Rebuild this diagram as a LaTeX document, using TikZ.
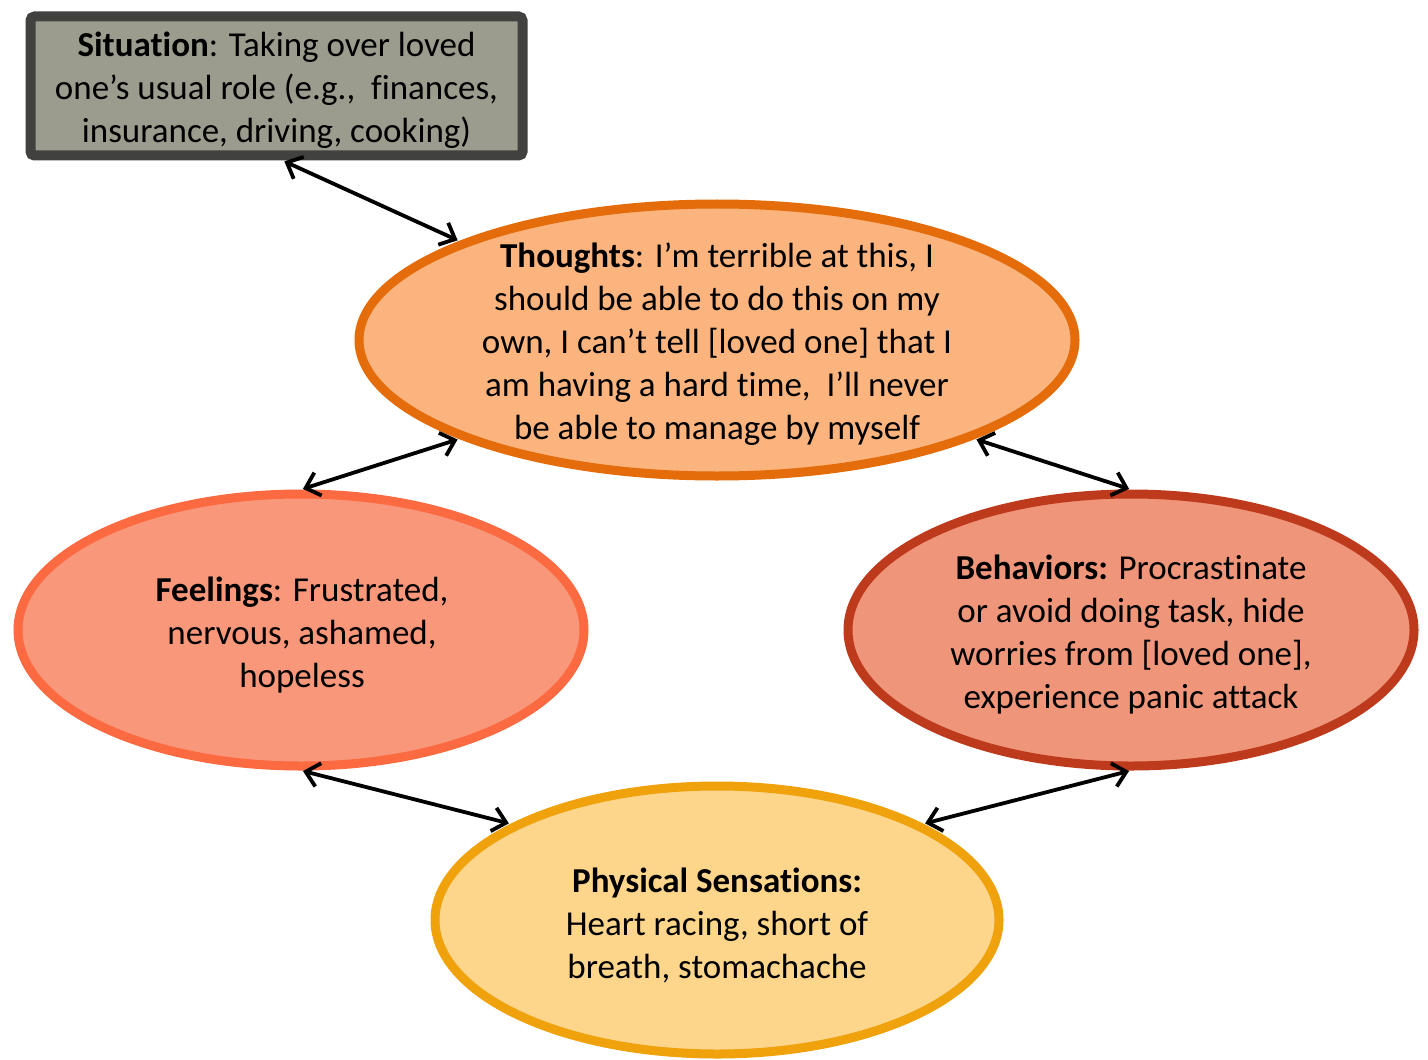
\documentclass[tikz,border=0pt]{standalone}
\usepackage{fontspec}
\setmainfont[Ligatures={NoCommon}]{Carlito}
\usetikzlibrary{shapes.geometric,arrows.meta}
\definecolor{boxfill}{HTML}{9C9C8E}
\definecolor{boxline}{HTML}{414140}
\definecolor{thfill}{HTML}{FBB47E}
\definecolor{thline}{HTML}{E46C0A}
\definecolor{fefill}{HTML}{F9977B}
\definecolor{feline}{HTML}{FC6A42}
\definecolor{befill}{HTML}{EF957A}
\definecolor{beline}{HTML}{BE3A1C}
\definecolor{phfill}{HTML}{FDD58B}
\definecolor{phline}{HTML}{F0A20C}
\tikzset{
  oval/.style={ellipse, line width=4.5pt, inner sep=0pt},
  txt/.style={align=center, font=\fontsize{17.5}{21.5}\selectfont, text=black},
  link/.style={{Straight Barb[length=6.5pt,width=12pt,line width=1.9pt]}-{Straight Barb[length=6.5pt,width=12pt,line width=1.9pt]}, line width=1.9pt, black, shorten <=1pt, shorten >=1pt}
}
\begin{document}
\begin{tikzpicture}[x=0.5pt,y=-0.5pt]
\useasboundingbox (0,0) rectangle (1428,1059);
\node[draw=boxline, fill=boxfill, line width=5pt, rounded corners=2pt, inner sep=0pt, minimum width=246pt, minimum height=69.5pt] (sit) at (276.5,86) {};
\node[txt] at (276.5,90) {\textbf{Situation}: Taking over loved\\one’s usual role (e.g.,~ finances,\\insurance, driving, cooking)};
\node[oval, draw=thline, fill=thfill, minimum width=358pt, minimum height=136pt] (th) at (717,340) {};
\node[txt] at (717,344) {\textbf{Thoughts}: I’m terrible at this, I\\should be able to do this on my\\own, I can’t tell [loved one] that I\\am having a hard time,~ I’ll never\\be able to manage by myself};
\node[oval, draw=feline, fill=fefill, minimum width=283pt, minimum height=136pt] (fe) at (301,630) {};
\node[txt] at (302,635) {\textbf{Feelings}: Frustrated,\\nervous, ashamed,\\hopeless};
\node[oval, draw=beline, fill=befill, minimum width=283pt, minimum height=136pt] (be) at (1131,630) {};
\node[txt] at (1131,635) {\textbf{Behaviors:} Procrastinate\\or avoid doing task, hide\\worries from [loved one],\\experience panic attack};
\node[oval, draw=phline, fill=phfill, minimum width=282pt, minimum height=134pt] (ph) at (717,920) {};
\node[txt] at (717,925) {\textbf{Physical Sensations:}\\Heart racing, short of\\breath, stomachache};
\draw[link] ([xshift=3pt]sit.south) -- (th.159);
\draw[link] (th.201) -- (fe.north);
\draw[link] (th.-21) -- (be.north);
\draw[link] (fe.south) -- (ph.155);
\draw[link] (be.south) -- (ph.25);
\end{tikzpicture}
\end{document}
